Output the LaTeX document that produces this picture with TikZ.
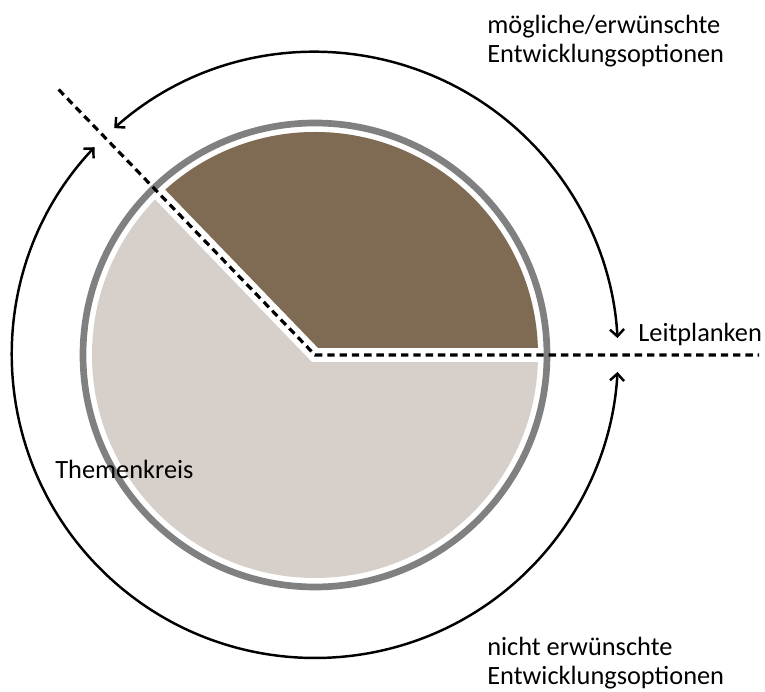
\documentclass[tikz,border=0pt]{standalone}
\usepackage{fontspec}
\setmainfont{Carlito}
\usepackage{xcolor}
\usetikzlibrary{arrows.meta}
\definecolor{brownpie}{RGB}{127,106,83}
\definecolor{sandpie}{RGB}{215,207,201}
\definecolor{ringgray}{RGB}{128,128,128}
\tikzset{
  label/.style={font=\fontsize{15}{17}\selectfont,inner sep=0pt,align=left,anchor=base west},
  option/.style={line width=1.4pt,{Straight Barb[length=4pt,width=8pt]}-{Straight Barb[length=4pt,width=8pt]}},
  border/.style={line width=1.8pt,dash pattern=on 4.2pt off 2.8pt}
}
\begin{document}
\begin{tikzpicture}[x=0.02cm,y=0.02cm]
\useasboundingbox (-315,-337) rectangle (450,355);
% pie
\fill[sandpie] (0,0) circle[radius=223];
\fill[brownpie] (0,0) -- (0:223) arc[start angle=0,end angle=134,radius=223] -- cycle;
\draw[white,line width=7.9pt,miter limit=10] (134:228) -- (0,0) -- (0:228);
\draw[ringgray,line width=3.8pt] (0,0) circle[radius=232];
% Leitplanken
\coordinate (c) at (0,0);
\coordinate (a) at (134:369);
\coordinate (b) at (444,0);
\draw[border] (a) -- (c) -- (b);
% arrows
\draw[option] (131.5:303) arc[start angle=131.5,end angle=3.2,radius=303];
\draw[option] (136.7:303) arc[start angle=136.7,end angle=356.8,radius=303];
% texts
\node (1) at (172,292) [label] {mögliche/erwünschte\\Entwicklungsoptionen};
\node (2) at (323,13) [label] {Leitplanken};
\node (3) at (-260,-124) [label] {Themenkreis};
\node (4) at (172,-330) [label] {nicht erwünschte\\Entwicklungsoptionen};
\end{tikzpicture}
\end{document}
